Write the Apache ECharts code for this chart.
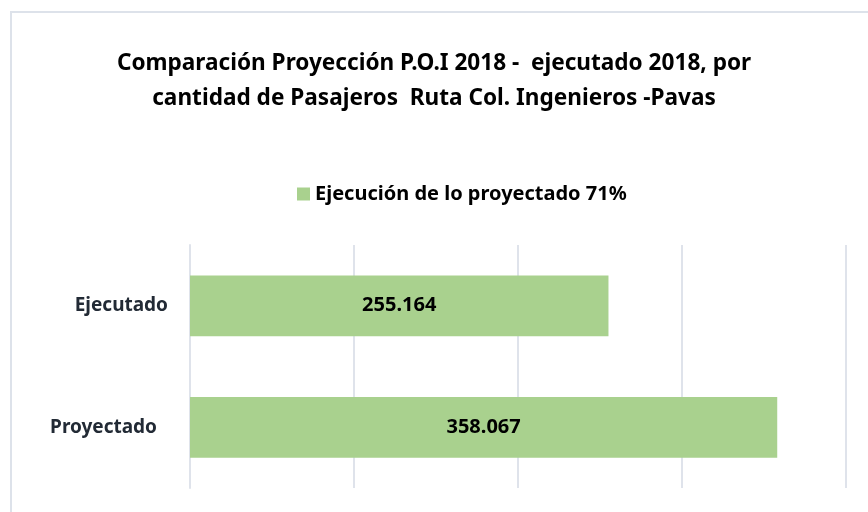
<!DOCTYPE html>
<html>
<head>
<meta charset="utf-8">
<script src="https://cdn.jsdelivr.net/npm/echarts@6/dist/echarts.min.js"></script>
<style>
html,body{margin:0;padding:0;background:#fff;}
#chart{width:868px;height:512px;}
</style>
</head>
<body>
<div id="chart"></div>
<script>
// categorias (de abajo hacia arriba)
var categorias = ['Proyectado', 'Ejecutado'];
// pasajeros
var pasajeros = [358067, 255164];
var serieNombre = 'Ejecución de lo proyectado 71%';
var ejeMax = 400000, ejeIntervalo = 100000;

// formato con punto de miles
function fmtMiles(v) {
    return String(v).replace(/\B(?=(\d{3})+(?!\d))/g, '.');
}

var chart = echarts.init(document.getElementById('chart'));
var option = {
    backgroundColor: '#fff',
    animation: false,
    graphic: [{
        type: 'rect',
        shape: {x: 11, y: 12, width: 900, height: 600},
        style: {fill: 'none', stroke: '#DDE2EA', lineWidth: 2}
    }],
    title: {
        text: 'Comparación Proyección P.O.I 2018 -  ejecutado 2018, por\ncantidad de Pasajeros  Ruta Col. Ingenieros -Pavas',
        left: 429,
        textAlign: 'center',
        top: 41,
        textStyle: {
            fontFamily: 'Noto Sans',
            fontWeight: 'bold',
            fontSize: 22.6,
            lineHeight: 35,
            color: '#000'
        }
    },
    legend: {
        data: [serieNombre],
        left: 292,
        top: 179,
        icon: 'rect',
        itemWidth: 13,
        itemHeight: 13,
        itemGap: 6,
        textStyle: {
            fontFamily: 'Noto Sans',
            fontWeight: 'bold',
            fontSize: 20,
            color: '#000'
        }
    },
    grid: {
        left: 190,
        right: 22,
        top: 245,
        bottom: 24,
        containLabel: false
    },
    xAxis: {
        type: 'value',
        min: 0,
        max: ejeMax,
        interval: ejeIntervalo,
        axisLabel: {show: false},
        axisLine: {show: false},
        axisTick: {show: false},
        splitLine: {lineStyle: {color: '#DFE3EB', width: 2}}
    },
    yAxis: {
        type: 'category',
        data: categorias,
        axisLine: {show: true, lineStyle: {color: '#DFE3EB', width: 2}},
        axisTick: {show: false},
        axisLabel: {
            margin: 22,
            formatter: function (v) {
                return v == 'Proyectado' ? '{p|' + v + '}' : '{e|' + v + '}';
            },
            rich: {
                e: {fontFamily: 'Noto Sans', fontWeight: 'bold', fontSize: 19, color: '#222A35'},
                p: {fontFamily: 'Noto Sans', fontWeight: 'bold', fontSize: 19, color: '#222A35', padding: [0, 11, 0, 0]}
            }
        }
    },
    series: [{
        name: serieNombre,
        type: 'bar',
        data: pasajeros,
        barCategoryGap: '50%',
        itemStyle: {color: '#A9D18E'},
        label: {
            show: true,
            position: 'inside',
            formatter: function (p) { return fmtMiles(p.value); },
            fontFamily: 'Noto Sans',
            fontWeight: 'bold',
            fontSize: 20,
            color: '#000'
        }
    }]
};
chart.setOption(option);
</script>
</body>
</html>
